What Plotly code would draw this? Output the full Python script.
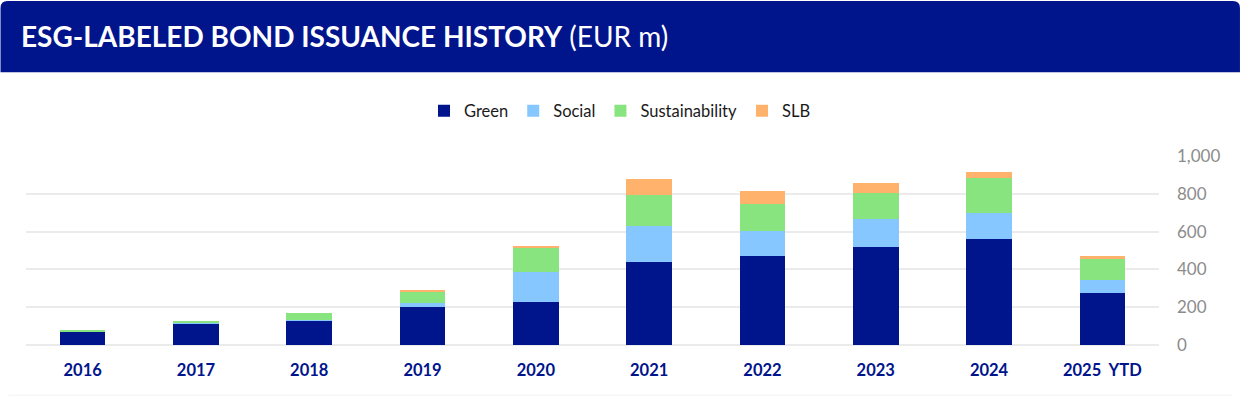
import plotly.graph_objects as go

years = ["2016", "2017", "2018", "2019", "2020", "2021", "2022", "2023", "2024", "2025\u00a0 YTD"]
green = [72, 112, 128, 203, 225, 438, 470, 520, 560, 273]
social = [0, 4, 5, 19, 160, 192, 135, 145, 137, 70]
sustainability = [6, 12, 37, 60, 130, 163, 140, 137, 184, 111]
slb = [0, 0, 0, 5, 5, 84, 69, 54, 33, 16]
y_ticks = [0, 200, 400, 600, 800, 1000]

series = [
    ("Green", green, "#00148C"),
    ("Social", social, "#87C7FF"),
    ("Sustainability", sustainability, "#88E47F"),
    ("SLB", slb, "#FFB26C"),
]

W, H = 1240, 397
L, R = 25.5, 1159.0
T, B = 155.7, 345.5
pw, ph = R - L, B - T

def px_x(x):
    return (x - L) / pw

def px_y(y):
    return (B - y) / ph

FONT = "Lato"

fig = go.Figure()
for name, vals, col in series:
    fig.add_trace(go.Bar(
        name=name, x=years, y=vals,
        marker=dict(color=col, line=dict(width=0)),
        hoverinfo="x+y+name",
    ))

# banner with rounded top corners
r = 7
x0, x1 = px_x(0), px_x(W)
y0, y1 = px_y(71.5), px_y(0)
rx, ry = r / pw, r / ph
path = (f"M {x0},{y0} L {x0},{y1-ry} Q {x0},{y1} {x0+rx},{y1} "
        f"L {x1-rx},{y1} Q {x1},{y1} {x1},{y1-ry} L {x1},{y0} Z")
shapes = [dict(type="path", xref="paper", yref="paper", path=path,
               fillcolor="#00148C", line=dict(width=0), layer="below")]
# faint bottom card edge
shapes.append(dict(type="line", xref="paper", yref="paper",
                   x0=px_x(8), x1=px_x(W - 8), y0=px_y(396), y1=px_y(396),
                   line=dict(color="#F2F2F2", width=1)))

fig.update_layout(
    width=W, height=H,
    margin=dict(l=L, r=W - R, t=T, b=H - B, pad=0),
    paper_bgcolor="white", plot_bgcolor="white",
    barmode="stack", bargap=0.597,
    font=dict(family=FONT, size=16, color="#222222"),
    title=dict(
        text="<b>ESG-LABELED BOND ISSUANCE HISTORY</b> (EUR m)",
        xref="container", yref="container",
        x=21 / W, xanchor="left", y=1 - 37 / H, yanchor="middle",
        font=dict(family=FONT, size=28, color="white"),
    ),
    legend=dict(
        orientation="h", xref="container", yref="container",
        x=0.5, xanchor="center", y=1 - 111 / H, yanchor="middle",
        font=dict(family=FONT, size=16.5, color="#1A1A1A"),
        traceorder="normal", itemwidth=30, itemsizing="constant",
        bgcolor="rgba(0,0,0,0)",
    ),
    xaxis=dict(
        type="category", showgrid=False, showline=False, zeroline=False,
        ticks="", ticklabelstandoff=13,
        tickfont=dict(family=FONT, size=16.5, color="#00148C", weight="bold"),
    ),
    yaxis=dict(
        side="right", range=[0, 1000], tickvals=y_ticks, tickformat=",",
        showgrid=True, gridcolor="#EBEBEB", gridwidth=2,
        zeroline=True, zerolinecolor="#EBEBEB", zerolinewidth=2,
        showline=False, ticks="", ticklabelstandoff=17,
        tickfont=dict(family=FONT, size=17, color="#8C8C8C"),
    ),
    shapes=shapes,
)

fig.write_html("out.html", config={"displayModeBar": False},
               post_script="document.body.style.margin='0';")
